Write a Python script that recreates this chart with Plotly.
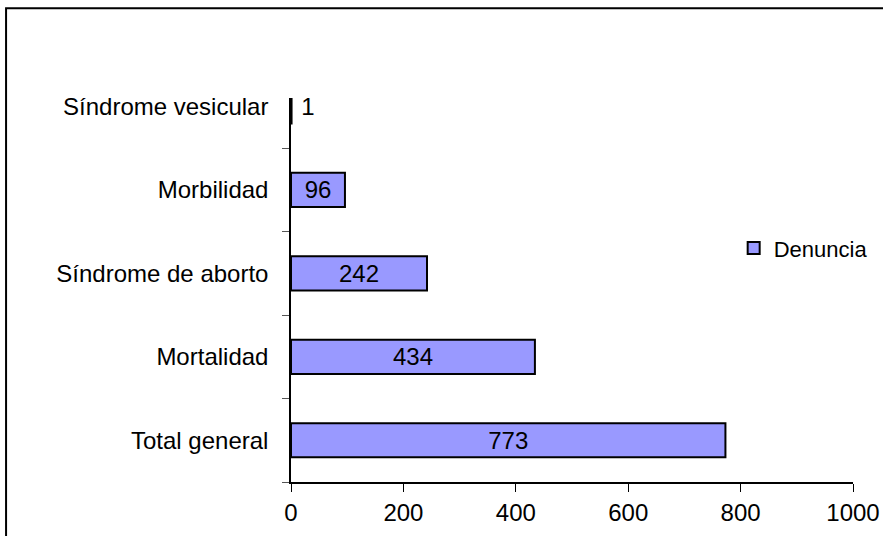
import plotly.graph_objects as go

categories = ["Total general", "Mortalidad", "Síndrome de aborto", "Morbilidad", "Síndrome vesicular"]
values = [773, 434, 242, 96, 1]
text_positions = ["inside", "inside", "inside", "inside", "outside"]
text_templates = ["%{x}", "%{x}", "%{x}", "%{x}", "\u00a0%{x}"]
series_name = "Denuncia"
x_ticks = [0, 200, 400, 600, 800, 1000]

FONT = "Liberation Sans, Arial, sans-serif"

fig = go.Figure()
fig.add_trace(go.Bar(
    y=categories,
    x=values,
    orientation="h",
    name=series_name,
    marker=dict(color="#9999FF", line=dict(color="black", width=2)),
    texttemplate=text_templates,
    textposition=text_positions,
    insidetextanchor="middle",
    textangle=0,
    textfont=dict(family=FONT, size=24, color="black"),
    cliponaxis=False,
))

fig.update_layout(
    width=883, height=536,
    margin=dict(l=291, r=30, t=98, b=54, autoexpand=False),
    paper_bgcolor="white", plot_bgcolor="white",
    bargap=0.59,
    font=dict(family=FONT, size=24, color="black"),
    showlegend=True,
    legend=dict(x=1.035, y=0.609, xanchor="right", yanchor="middle",
                bgcolor="rgba(0,0,0,0)", font=dict(family=FONT, size=22, color="black")),
    xaxis=dict(range=[0, 1000], tickvals=x_ticks, ticktext=[str(t) for t in x_ticks],
               automargin=False,
               showgrid=False, zeroline=False, showline=True, linecolor="black", linewidth=1.5,
               ticks="outside", ticklen=8, tickcolor="black", tickwidth=1,
               tickfont=dict(family=FONT, size=24, color="black")),
    yaxis=dict(type="category", categoryorder="array", categoryarray=categories,
               range=[-0.5, 4.1], automargin=False, showgrid=False, zeroline=False,
               showline=True, linecolor="black", linewidth=1.5,
               ticks="outside", tickson="boundaries", ticklen=7, tickcolor="#555", tickwidth=1,
               ticklabelstandoff=16,
               tickfont=dict(family=FONT, size=24, color="black")),
    shapes=[dict(type="rect", xref="paper", yref="paper",
                 x0=-0.507, x1=1.2, y0=-1.0, y1=1.234,
                 line=dict(color="black", width=2), fillcolor="rgba(0,0,0,0)", layer="below")],
)

fig.write_html("out.html", config={"displayModeBar": False, "responsive": False},
               post_script="document.body.style.margin='0';")
